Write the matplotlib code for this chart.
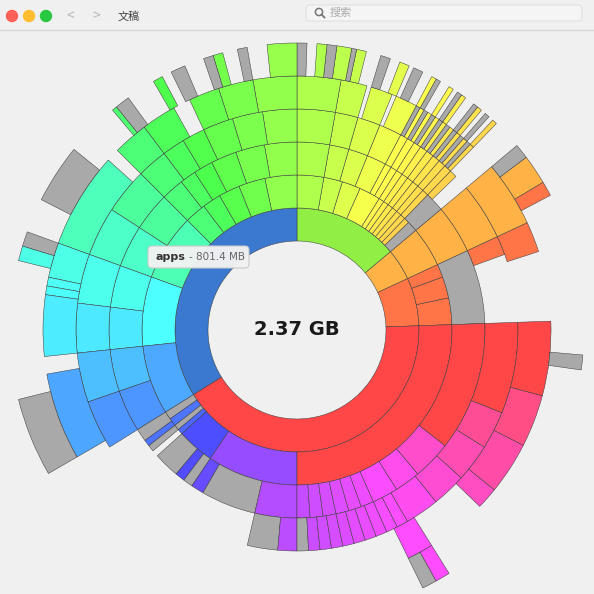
import numpy as np
import matplotlib
matplotlib.use("Agg")
import matplotlib.pyplot as plt
from matplotlib.patches import FancyBboxPatch, Circle
import colorsys

plt.rcParams['font.family'] = ['Noto Sans CJK SC', 'DejaVu Sans']

# ---------------- data ----------------
TOTAL_LABEL = "2.37 GB"
TOOLTIP_NAME = "apps"
TOOLTIP_SIZE = "801.4 MB"
START_DEG = 2

OR, O, YG, APPS, R = '#ff7547', '#ffb347', '#90ee45', '#3b78cf', '#ff4747'

ring1 = [(23, OR), (15, O), (50, YG), (122, APPS), (150, R)]

ring2 = ([(10, OR), (8, OR), (5, OR)] + [(15, O)] +
         [(4, 'g')] + [(2, 'h')] * 7 + [(8, 'h'), (7, 'h'), (7, 'h'), (10, 'h')] +
         [(12, 'h'), (10, 'h'), (8, 'h'), (7, 'h'), (8, 'h'), (25, 'h'), (26, 'h'), (26, 'h')] +
         [(3, 'g'), (3, 'h'), (2, 'g'), (2, 'h'), (14, 'h'), (34, 'h'), (92, R)])

ring3 = ([(23, 'g')] + [(15, O)] +
         [(6, 'g')] + [(2, 'h')] * 8 + [(6, 'h')] * 3 + [(10, 'h')] +
         [(10, 'h'), (9, 'h'), (8, 'h'), (6, 'h'), (5, 'h'), (7, 'h'), (12, 'h'), (13, 'h'),
          (13, 'h'), (13, 'h'), (13, 'h'), (13, 'h')] +
         [(4, 'g'), (2, 'h'), (2, 'g'), (2, None), (8, 'g'), (3, 'h'), (3, 'g'), (4, 'h'),
          (17, 'g'), (13, 'h')] + [(4, 'h')] * 6 + [(8, 'h'), (8, 'h'), (12, 'h'), (40, R)])

ring4 = ([(18, None), (5, OR)] + [(15, O)] +
         [(4, None)] + [(2, 'h')] * 9 + [(6, 'h')] * 3 + [(10, 'h')] +
         [(9, 'h'), (8, 'h'), (8, 'h'), (6, 'h'), (6, 'h'), (8, 'h'), (12, 'h'), (13, 'h'),
          (13, 'h'), (13, 'h'), (13, 'h'), (13, 'h')] +
         [(45, None), (8, 'g'), (5, 'h'), (3, 'g')] + [(3, 'h')] * 9 +
         [(9, 'h'), (9, 'h'), (10, 'h'), (10, 'h'), (24, R)])

ring5 = ([(16, None), (7, OR)] + [(15, O)] +
         [(6, None)] + [(1, 'h'), (1, 'g')] * 8 +
         [(5, 'h'), (1, None), (5, 'h'), (1, None), (6, 'h'), (10, 'h')] +
         [(10, 'h'), (8, 'h'), (7, 'h'), (4, None), (8, 'h'), (8, 'h')] +
         [(3, None), (22, 'h')] + [(8, 'h'), (2, 'h'), (2, 'h'), (14, 'h')] +
         [(4, None), (20, 'h'), (2, None)] +
         [(84, None), (6, 'h'), (14, None), (5, 'h'), (12, 'h'), (12, 'h'), (17, R)])

ring6 = ([(23, None)] + [(3, None), (3, OR), (6, O), (3, 'g')] +
         [(6, None), (1, 'h'), (1, None), (1, 'g'), (1, None), (1, 'h'), (1, 'g'), (2, None),
          (1, 'h'), (1, 'g'), (1, None), (1, 'h'), (2, None), (1, 'g'), (1, 'h'), (2, None),
          (2, 'g'), (1, None), (2, 'h'), (2, None), (2, 'g'), (3, None), (2, 'h'), (1, 'g'),
          (3, 'h'), (2, 'g'), (2, 'h'), (2, None), (2, 'g')] +
         [(6, 'h'), (4, None), (2, 'g'), (3, None), (2, 'h'), (2, 'g'), (4, None), (3, 'g'),
          (2, None), (2, 'h'), (6, None), (3, 'g'), (1, 'h'), (5, None)] +
         [(6, None), (12, 'g'), (7, None)] + [(3, 'g'), (3, 'h'), (20, None)] +
         [(8, None), (16, 'g'), (2, None)] +
         [(84, None), (3, 'g'), (3, 'h'), (50, None), (3, 'g'), (7, None)])

rings = [ring1, ring2, ring3, ring4, ring5, ring6]
radii = [89, 122, 155, 188, 221, 254, 287]

# hue mapping by angle
ang_pts = [0, 30, 55, 80, 120, 150, 175, 200, 230, 260, 300, 330, 360]
hue_pts = [0, 30, 55, 82, 120, 158, 182, 210, 240, 272, 300, 333, 360]


def auto_color(mid_deg):
    h = np.interp(mid_deg % 360, ang_pts, hue_pts) / 360.0
    return colorsys.hsv_to_rgb(h % 1.0, 0.70, 1.0)


W = H = 594
fig = plt.figure(figsize=(W / 100, H / 100), dpi=100)
fig.patch.set_facecolor('#f0f0f0')

cx, cy = 297, 330
Rax = 300
ax = fig.add_axes([(cx - Rax) / W, (H - cy - Rax) / H, 2 * Rax / W, 2 * Rax / H],
                  projection='polar')
ax.set_ylim(0, Rax)
ax.axis('off')
ax.patch.set_alpha(0)

for i, ring in enumerate(rings):
    sizes = np.array([s for s, _ in ring], float)
    total = sizes.sum()
    edges = np.concatenate([[0], np.cumsum(sizes)]) / total * 360 + START_DEG
    for j, (s, c) in enumerate(ring):
        if c is None:
            continue
        a0, a1 = edges[j], edges[j + 1]
        if c == 'h':
            col = auto_color((a0 + a1) / 2)
        elif c == 'g':
            col = '#a9a9a9'
        else:
            col = c
        ax.bar(np.deg2rad(a0), radii[i + 1] - radii[i], width=np.deg2rad(a1 - a0),
               bottom=radii[i], align='edge', color=col, edgecolor='#3a3a3a',
               linewidth=0.35)

ax.text(0, 0, TOTAL_LABEL, ha='center', va='center', fontsize=14, fontweight='bold',
        color='#1a1a1a', family=['DejaVu Sans'])

# overlay (pixel coordinates)
ov = fig.add_axes([0, 0, 1, 1])
ov.set_xlim(0, W)
ov.set_ylim(H, 0)
ov.axis('off')
ov.patch.set_alpha(0)

# title bar
ov.plot([0, W], [30, 30], color='#d8d8d8', lw=1)
for x, c in [(12, '#fe5f57'), (29, '#febc2e'), (46, '#28c840')]:
    ov.add_patch(Circle((x, 16), 5.5, color=c))
ov.text(70, 16, '<', fontsize=10, color='#b8b8b8', va='center', ha='center')
ov.text(96, 16, '>', fontsize=10, color='#b8b8b8', va='center', ha='center')
ov.text(118, 16, '文稿', fontsize=8, color='#444444', va='center')
ov.add_patch(FancyBboxPatch((306, 5), 276, 16, boxstyle='round,pad=0,rounding_size=4',
                            fc='#f5f5f5', ec='#e0e0e0', lw=0.8))
# magnifier glyph drawn as shape
ov.add_patch(Circle((319, 12), 3.6, fill=False, ec='#777777', lw=1.1))
ov.plot([321.6, 324.5], [14.6, 17.5], color='#777777', lw=1.3)
ov.text(330, 13, '搜索', fontsize=8, color='#aaaaaa', va='center')

# tooltip
ov.add_patch(FancyBboxPatch((148, 246), 101, 22, boxstyle='round,pad=0,rounding_size=4',
                            fc='#f2f2f2', ec='#c8c8c8', lw=0.8, alpha=0.97))
ov.text(155, 257, TOOLTIP_NAME, fontsize=8, fontweight='bold', color='#333333',
        va='center', family=['DejaVu Sans'])
ov.text(189, 257, '- ' + TOOLTIP_SIZE, fontsize=7.5, color='#666666', va='center',
        family=['DejaVu Sans'])

fig.savefig('out.png', dpi=100, facecolor=fig.get_facecolor())
